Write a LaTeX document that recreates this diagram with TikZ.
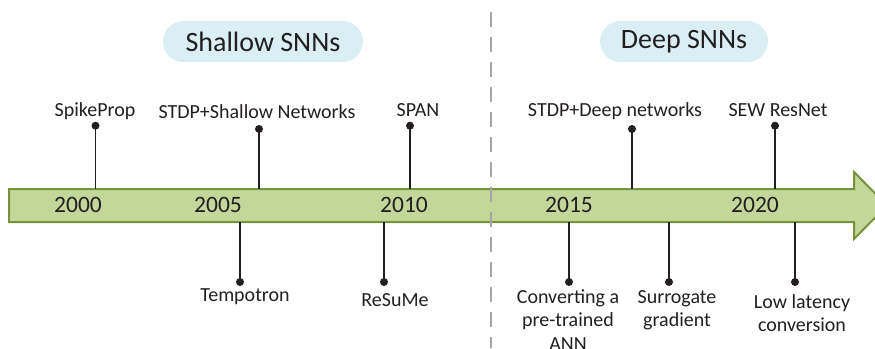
\documentclass[tikz,border=0pt]{standalone}
\usepackage{fontspec}
\setmainfont{Carlito}
\definecolor{arrowfill}{HTML}{C4D79B}
\definecolor{arrowline}{HTML}{77933C}
\definecolor{pillfill}{HTML}{DAEEF3}
\definecolor{ink}{HTML}{231F20}
\definecolor{dashgray}{HTML}{A6A6A6}
\begin{document}
\begin{tikzpicture}[x=1pt,y=-1pt,
  lbl/.style={font=\fontsize{20}{23.5}\selectfont, text=ink, inner sep=0pt, anchor=base, align=center},
  yr/.style={font=\fontsize{23.5}{28}\selectfont, text=ink, inner sep=0pt, anchor=base},
  pill/.style={fill=pillfill, rounded corners=20.5pt, minimum height=41pt, inner sep=0pt, font=\fontsize{28}{32}\selectfont, text=ink},
  dot/.style={circle, fill=ink, inner sep=0pt, minimum size=8pt},
  stem/.style={draw=ink, line width=1.8pt}]
\useasboundingbox (0,0) rectangle (875,348);
\clip (0,0) rectangle (875,348);
% pills
\node[pill, minimum width=200pt] (shallow) at (263,41.5) {Shallow SNNs};
\node[pill, minimum width=168pt] (deep) at (684,41.5) {Deep SNNs};
% arrow
\fill[arrowfill, draw=arrowline, line width=2pt, line join=miter]
  (9,189) -- (854,189) -- (854,172) -- (887,205.5) -- (854,239) -- (854,222) -- (9,222) -- cycle;
% divider
\draw[dashgray, line width=2pt, dash pattern=on 15pt off 10pt] (491,12) -- (491,348);
% years
\node[yr] (y2000) at (78,212.7) {2000};
\node[yr] (y2005) at (218,212.7) {2005};
\node[yr] (y2010) at (404,212.7) {2010};
\node[yr] (y2015) at (569,212.7) {2015};
\node[yr] (y2020) at (755,212.7) {2020};
% anchor points on the arrow
\coordinate (a1) at (95.5,189);
\coordinate (a2) at (259,189);
\coordinate (a3) at (410,189);
\coordinate (a4) at (632,189);
\coordinate (a5) at (775,189);
\coordinate (b1) at (240,222);
\coordinate (b2) at (384,222);
\coordinate (b3) at (569,222);
\coordinate (b4) at (669,222);
\coordinate (b5) at (795,222);
% dots
\node[dot] (d1) at (95.5,125.7) {};
\node[dot] (d2) at (259,129) {};
\node[dot] (d3) at (410,125.7) {};
\node[dot] (d4) at (632,129) {};
\node[dot] (d5) at (775,125.7) {};
\node[dot] (e1) at (240,282) {};
\node[dot] (e2) at (384,282) {};
\node[dot] (e3) at (569,282) {};
\node[dot] (e4) at (669,282) {};
\node[dot] (e5) at (795,282) {};
% stems
\draw[stem] (d1.center) -- (a1);
\draw[stem] (d2.center) -- (a2);
\draw[stem] (d3.center) -- (a3);
\draw[stem] (d4.center) -- (a4);
\draw[stem] (d5.center) -- (a5);
\draw[stem] (b1) -- (e1.center);
\draw[stem] (b2) -- (e2.center);
\draw[stem] (b3) -- (e3.center);
\draw[stem] (b4) -- (e4.center);
\draw[stem] (b5) -- (e5.center);
% labels (multi-line labels: base anchor sits on the last line)
\node[lbl] (l1) at (95,116.7) {SpikeProp};
\node[lbl] (l2) at (257,118) {STDP+Shallow Networks};
\node[lbl] (l3) at (418,116.7) {SPAN};
\node[lbl] (l4) at (615,116.5) {STDP+Deep networks};
\node[lbl] (l5) at (778,116.5) {SEW ResNet};
\node[lbl] (m1) at (245,301.7) {Tempotron};
\node[lbl] (m2) at (395,306) {ReSuMe};
\node[lbl] (m3) at (568,350.3) {Converting a\\pre-trained\\ANN};
\node[lbl] (m4) at (677,326.8) {Surrogate\\gradient};
\node[lbl] (m5) at (802,331.5) {Low latency\\conversion};
\end{tikzpicture}
\end{document}
